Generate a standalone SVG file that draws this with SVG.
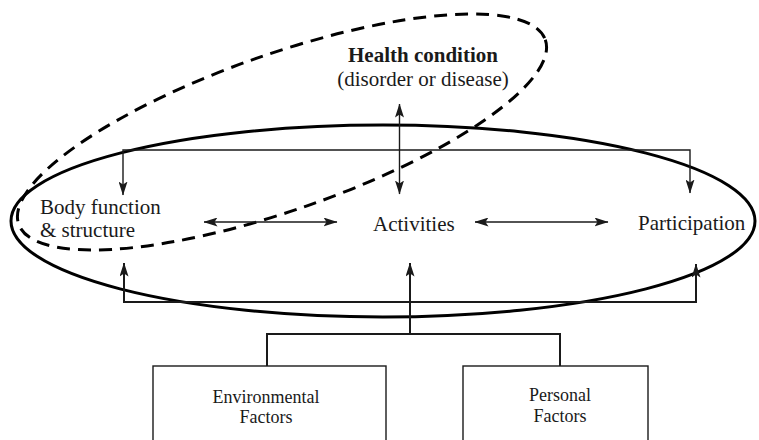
<svg xmlns="http://www.w3.org/2000/svg" width="759" height="440" viewBox="0 0 759 440">
<style>
  text { font-family: "Liberation Serif", "Times New Roman", serif; fill: #1a1a1a; }
  .lbl { font-size: 21px; }
  .small { font-size: 18px; }
  .conn { fill: none; stroke: #1a1a1a; stroke-width: 1.4; }
  .thick { stroke-width: 2; }
  .box { fill: #ffffff; stroke: #1a1a1a; stroke-width: 1.4; }
  .solid-ell { fill: none; stroke: #000; stroke-width: 3; }
  .dash-ell { fill: none; stroke: #000; stroke-width: 3; stroke-dasharray: 13 8; }
</style>
<defs>
  <marker id="ah" viewBox="0 0 14 9" refX="13.5" refY="4.5" markerWidth="14" markerHeight="9" markerUnits="userSpaceOnUse" orient="auto-start-reverse">
    <path d="M0,0 L14,4.5 L0,9 L3,4.5 Z" fill="#1a1a1a"/>
  </marker>
</defs>
<rect width="759" height="440" fill="#ffffff"/>

<g id="health-condition">
  <ellipse class="dash-ell" cx="282" cy="132" rx="279" ry="78" transform="rotate(-19.3 282 132)"/>
  <text class="lbl" x="423" y="62" text-anchor="middle" font-weight="bold">Health condition</text>
  <text class="lbl" x="423" y="86" text-anchor="middle">(disorder or disease)</text>
</g>

<g id="functioning-ellipse">
  <ellipse class="solid-ell" cx="383" cy="221" rx="372" ry="96"/>
</g>

<g id="body-function">
  <text class="lbl" x="40" y="214">Body function</text>
  <text class="lbl" x="40" y="237">&amp; structure</text>
</g>

<g id="activities">
  <text class="lbl" x="373" y="231">Activities</text>
</g>

<g id="participation">
  <text class="lbl" x="638" y="230">Participation</text>
</g>

<g id="environmental-factors">
  <rect class="box" x="153" y="366" width="233" height="90"/>
  <text class="small" x="266" y="403" text-anchor="middle">Environmental</text>
  <text class="small" x="266" y="423" text-anchor="middle">Factors</text>
</g>

<g id="personal-factors">
  <rect class="box" x="463" y="366" width="185" height="90"/>
  <text class="small" x="560" y="401" text-anchor="middle">Personal</text>
  <text class="small" x="560" y="422" text-anchor="middle">Factors</text>
</g>

<g id="connectors">
  <!-- health condition <-> activities -->
  <line class="conn" x1="399.5" y1="104" x2="399.5" y2="194" marker-start="url(#ah)" marker-end="url(#ah)"/>
  <!-- top bracket -->
  <path class="conn" d="M123,195 V150 H690 V193" marker-start="url(#ah)" marker-end="url(#ah)"/>
  <!-- body <-> activities -->
  <line class="conn" x1="204" y1="222" x2="337" y2="222" marker-start="url(#ah)" marker-end="url(#ah)"/>
  <!-- activities <-> participation -->
  <line class="conn" x1="475" y1="222" x2="608" y2="222" marker-start="url(#ah)" marker-end="url(#ah)"/>
  <!-- bottom bracket -->
  <path class="conn thick" d="M124,263 V302 H696 V264" marker-start="url(#ah)" marker-end="url(#ah)"/>
  <!-- contextual factors bracket -->
  <path class="conn thick" d="M267,366 V334 H560 V366"/>
  <line class="conn thick" x1="410" y1="334" x2="410" y2="263" marker-end="url(#ah)"/>
</g>
</svg>
